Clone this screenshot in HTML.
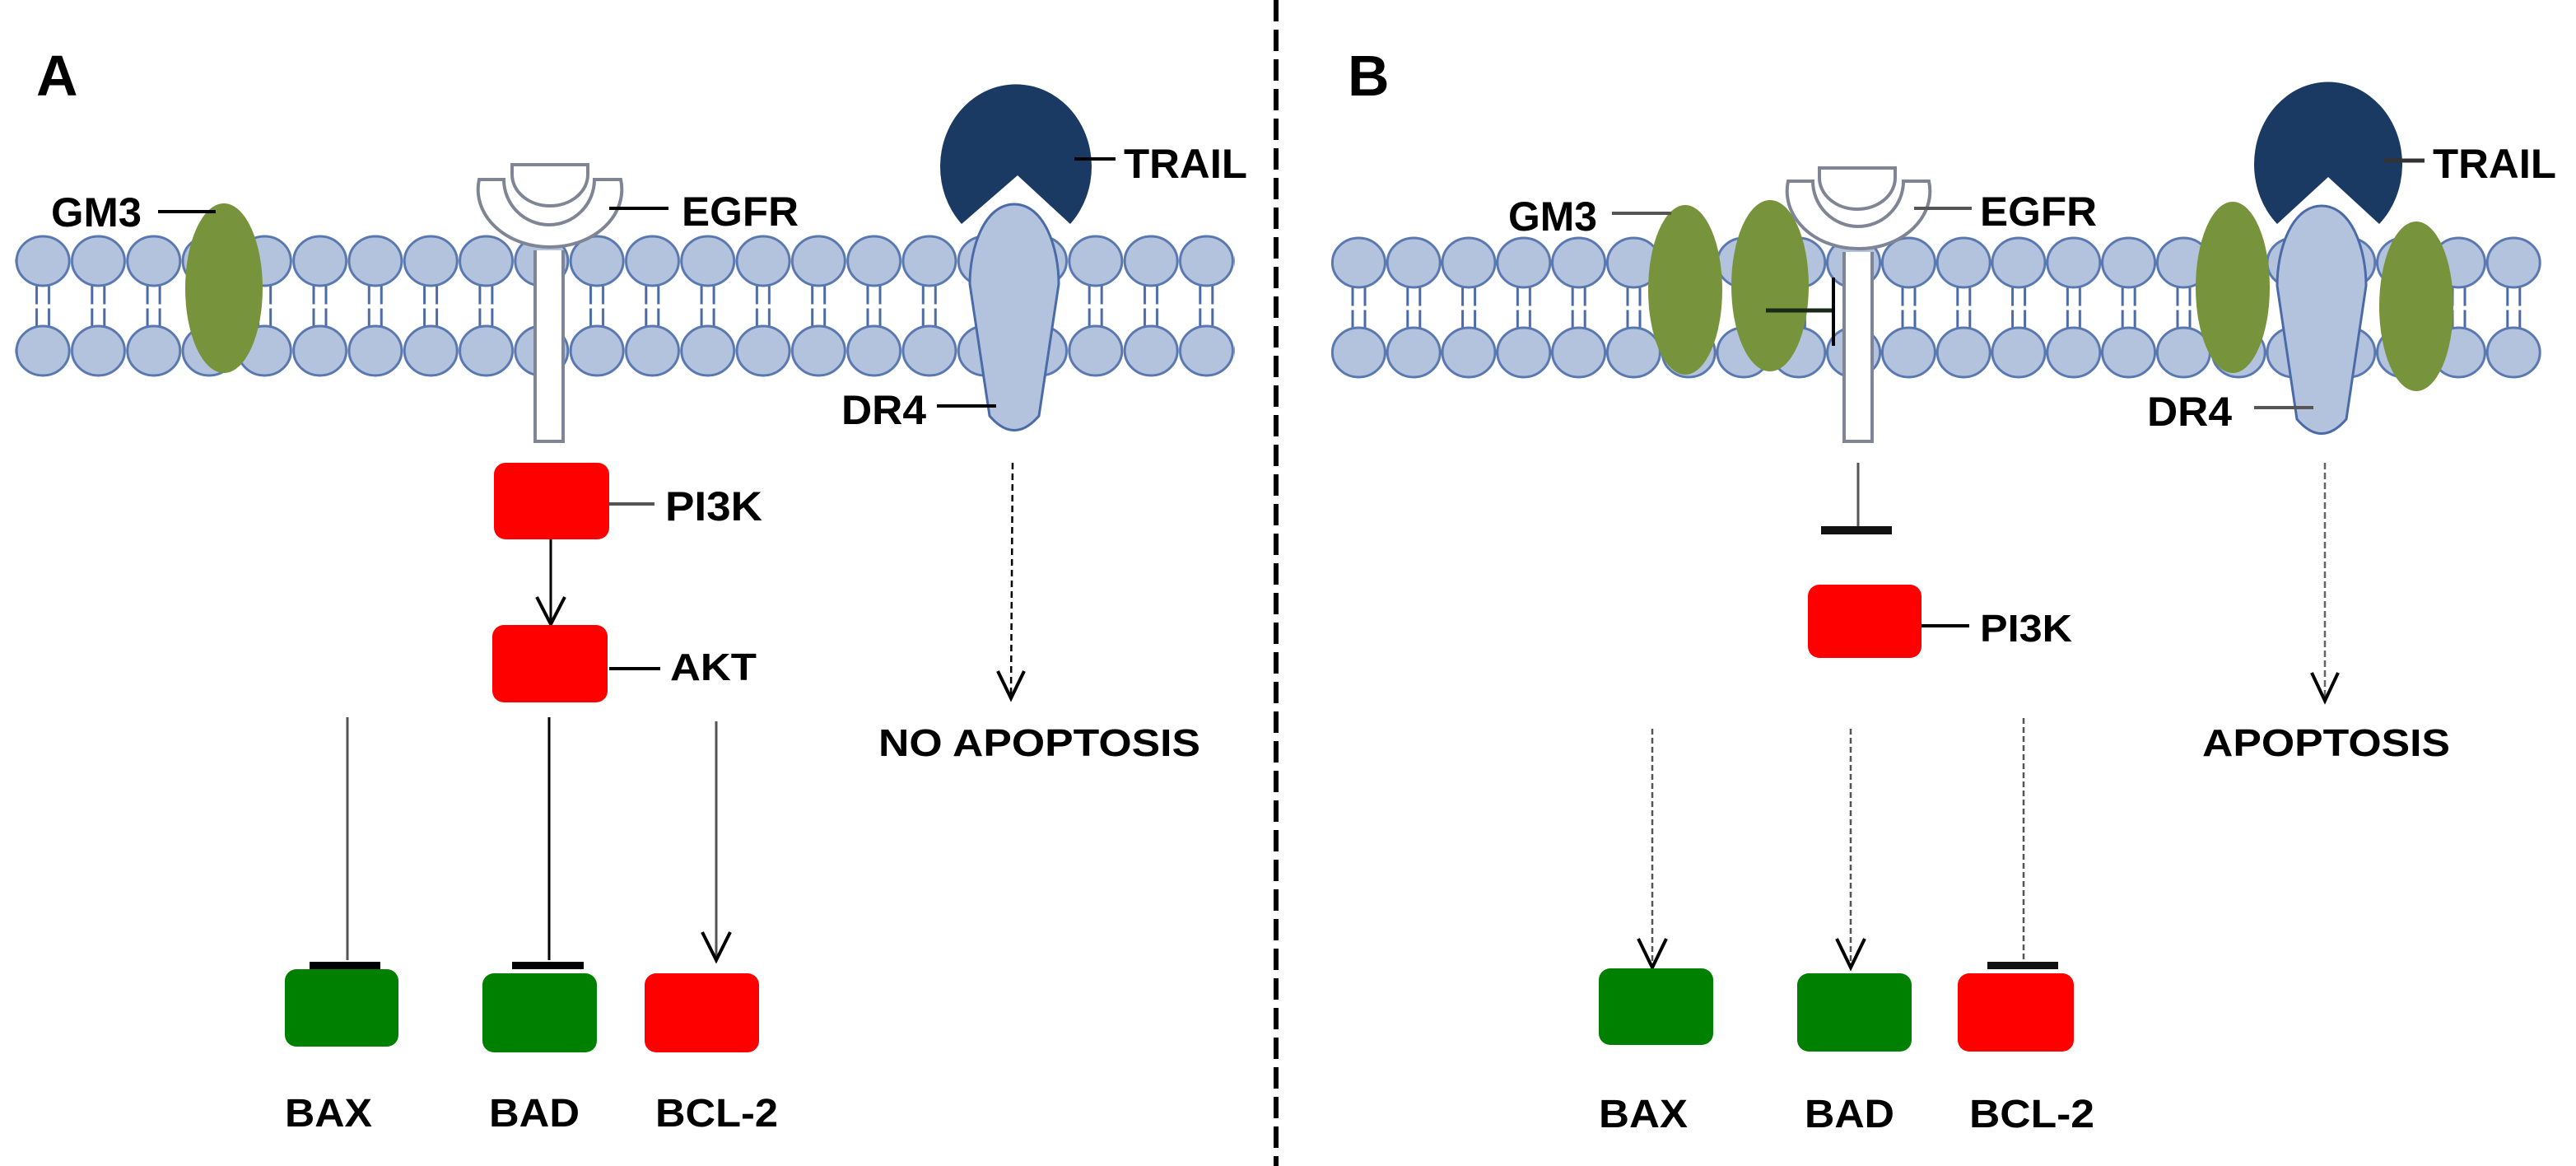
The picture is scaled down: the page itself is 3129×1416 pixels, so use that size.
<!DOCTYPE html>
<html><head><meta charset="utf-8"><style>
html,body{margin:0;padding:0;background:#fff;}
svg{display:block;}
text{font-family:"Liberation Sans",Arial,sans-serif;font-weight:bold;fill:#000;}
</style></head><body>
<svg width="3129" height="1416" viewBox="0 0 3129 1416" xmlns="http://www.w3.org/2000/svg">
<defs>
<pattern id="lipA" patternUnits="userSpaceOnUse" x="18.5" y="280" width="67.3" height="185">
 <line x1="26" y1="60" x2="26" y2="125" stroke="#4a6aa8" stroke-width="3"/>
 <line x1="41" y1="60" x2="41" y2="125" stroke="#4a6aa8" stroke-width="3"/>
 <line x1="20" y1="92" x2="48" y2="92" stroke="#fff" stroke-width="5"/>
 <ellipse cx="33.65" cy="37" rx="32" ry="30" fill="#b3c3dd" stroke="#5a78b0" stroke-width="3"/>
 <ellipse cx="33.65" cy="146" rx="32" ry="30" fill="#b3c3dd" stroke="#5a78b0" stroke-width="3"/>
</pattern>
<pattern id="lipB" patternUnits="userSpaceOnUse" x="1617" y="282" width="66.8" height="185">
 <line x1="26" y1="60" x2="26" y2="125" stroke="#4a6aa8" stroke-width="3"/>
 <line x1="41" y1="60" x2="41" y2="125" stroke="#4a6aa8" stroke-width="3"/>
 <line x1="20" y1="92" x2="48" y2="92" stroke="#fff" stroke-width="5"/>
 <ellipse cx="33.4" cy="37" rx="32" ry="30" fill="#b3c3dd" stroke="#5a78b0" stroke-width="3"/>
 <ellipse cx="33.4" cy="146" rx="32" ry="30" fill="#b3c3dd" stroke="#5a78b0" stroke-width="3"/>
</pattern>
</defs>

<line x1="1550" y1="0" x2="1550" y2="1416" stroke="#000" stroke-width="6" stroke-dasharray="26,10"/>

<!-- ===== PANEL A ===== -->
<text x="44" y="116" font-size="70">A</text>
<rect x="18" y="280" width="1482" height="185" fill="url(#lipA)"/>

<ellipse cx="272" cy="350" rx="47" ry="103" fill="#77933c"/>
<line x1="192" y1="257" x2="262" y2="257" stroke="#000" stroke-width="4"/>
<text x="62" y="275" font-size="50" textLength="110" lengthAdjust="spacingAndGlyphs">GM3</text>

<g fill="#fff" stroke="#7f8595" stroke-width="4">
 <path d="M650,304 L650,536 L684,536 L684,304"/>
 <path d="M582,218 L612,218 A55,55 0 0 0 722,218 L754,218 A87,70 0 0 1 667,300 A87,70 0 0 1 582,218 Z"/>
 <path d="M622,200 L714,200 L714,212 A46,38 0 0 1 622,212 Z"/>
</g>
<line x1="740" y1="253" x2="812" y2="253" stroke="#000" stroke-width="4"/>
<text x="828" y="274" font-size="50" textLength="142" lengthAdjust="spacingAndGlyphs">EGFR</text>

<path d="M1236,213 L1300,272 A92,100 0 1 0 1168,272 Z" fill="#1b3a63"/>
<line x1="1305" y1="193" x2="1355" y2="193" stroke="#000" stroke-width="4"/>
<text x="1365" y="216" font-size="50" textLength="150" lengthAdjust="spacingAndGlyphs">TRAIL</text>

<path d="M1232,248 C1268,248 1286,300 1286,345 L1262,505 Q1232,540 1202,505 L1178,345 C1178,300 1196,248 1232,248 Z" fill="#b3c3dd" stroke="#4a6aa8" stroke-width="3"/>
<line x1="1138" y1="493" x2="1210" y2="493" stroke="#000" stroke-width="4"/>
<text x="1022" y="515" font-size="50" textLength="103" lengthAdjust="spacingAndGlyphs">DR4</text>

<line x1="1230" y1="562" x2="1228" y2="845" stroke="#000" stroke-width="2.5" stroke-dasharray="8,5"/>
<path d="M1212,815 L1228,848 L1244,815" fill="none" stroke="#000" stroke-width="4"/>
<text x="1067" y="918" font-size="46" textLength="391" lengthAdjust="spacingAndGlyphs">NO APOPTOSIS</text>

<rect x="600" y="562" width="140" height="93" rx="14" fill="#ff0000"/>
<line x1="740" y1="612" x2="795" y2="612" stroke="#555" stroke-width="4"/>
<text x="808" y="632" font-size="50" textLength="118" lengthAdjust="spacingAndGlyphs">PI3K</text>
<line x1="669" y1="655" x2="669" y2="757" stroke="#000" stroke-width="3"/>
<path d="M652,725 L669,758 L686,725" fill="none" stroke="#000" stroke-width="4"/>

<rect x="598" y="759" width="140" height="94" rx="14" fill="#ff0000"/>
<line x1="740" y1="812" x2="802" y2="812" stroke="#000" stroke-width="4"/>
<text x="814" y="826" font-size="46" textLength="105" lengthAdjust="spacingAndGlyphs">AKT</text>

<line x1="422" y1="871" x2="422" y2="1166" stroke="#555" stroke-width="3"/>
<rect x="376" y="1168" width="86" height="9" fill="#000"/>
<line x1="667" y1="871" x2="667" y2="1166" stroke="#000" stroke-width="3"/>
<rect x="622" y="1168" width="87" height="9" fill="#000"/>
<line x1="870" y1="876" x2="870" y2="1164" stroke="#555" stroke-width="3"/>
<path d="M853,1132 L870,1166 L887,1132" fill="none" stroke="#000" stroke-width="4"/>

<rect x="346" y="1177" width="138" height="94" rx="14" fill="#008000"/>
<rect x="586" y="1182" width="139" height="96" rx="14" fill="#008000"/>
<rect x="783" y="1182" width="139" height="96" rx="14" fill="#ff0000"/>
<text x="346" y="1368" font-size="48" textLength="106" lengthAdjust="spacingAndGlyphs">BAX</text>
<text x="594" y="1368" font-size="48" textLength="110" lengthAdjust="spacingAndGlyphs">BAD</text>
<text x="796" y="1368" font-size="48" textLength="149" lengthAdjust="spacingAndGlyphs">BCL-2</text>

<!-- ===== PANEL B ===== -->
<text x="1637" y="116" font-size="70">B</text>
<rect x="1617" y="282" width="1469.6" height="185" fill="url(#lipB)"/>

<ellipse cx="2047" cy="352" rx="45" ry="103" fill="#77933c"/>
<ellipse cx="2150" cy="347" rx="47" ry="104" fill="#77933c"/>
<line x1="1958" y1="259" x2="2030" y2="259" stroke="#555" stroke-width="4"/>
<text x="1832" y="280" font-size="50" textLength="108" lengthAdjust="spacingAndGlyphs">GM3</text>

<g fill="#fff" stroke="#7f8595" stroke-width="4">
 <path d="M2240,306 L2240,536 L2274,536 L2274,306"/>
 <path d="M2172,220 L2202,220 A55,55 0 0 0 2312,220 L2343,220 A86,70 0 0 1 2257,302 A86,70 0 0 1 2172,220 Z"/>
 <path d="M2210,204 L2302,204 L2302,216 A46,38 0 0 1 2210,216 Z"/>
</g>
<line x1="2325" y1="253" x2="2395" y2="253" stroke="#555" stroke-width="4"/>
<text x="2405" y="274" font-size="50" textLength="142" lengthAdjust="spacingAndGlyphs">EGFR</text>
<line x1="2145" y1="377" x2="2226" y2="377" stroke="#1a2a1a" stroke-width="5"/>
<line x1="2227" y1="337" x2="2227" y2="420" stroke="#000" stroke-width="4"/>

<path d="M2828,215 L2890,272 A90,100 0 1 0 2766,272 Z" fill="#1b3a63"/>
<line x1="2895" y1="195" x2="2945" y2="195" stroke="#333" stroke-width="5"/>
<text x="2955" y="216" font-size="50" textLength="150" lengthAdjust="spacingAndGlyphs">TRAIL</text>

<ellipse cx="2712" cy="349" rx="45" ry="104" fill="#77933c"/>
<path d="M2820,250 C2856,250 2874,302 2874,347 L2850,509 Q2820,544 2790,509 L2766,347 C2766,302 2784,250 2820,250 Z" fill="#b3c3dd" stroke="#4a6aa8" stroke-width="3"/>
<ellipse cx="2935" cy="372" rx="45" ry="103" fill="#77933c"/>
<line x1="2738" y1="495" x2="2810" y2="495" stroke="#555" stroke-width="4"/>
<text x="2608" y="517" font-size="50" textLength="103" lengthAdjust="spacingAndGlyphs">DR4</text>

<line x1="2824" y1="562" x2="2824" y2="849" stroke="#666" stroke-width="2.5" stroke-dasharray="8,4"/>
<path d="M2808,817 L2824,851 L2840,817" fill="none" stroke="#000" stroke-width="4"/>
<text x="2675" y="918" font-size="46" textLength="301" lengthAdjust="spacingAndGlyphs">APOPTOSIS</text>

<line x1="2257" y1="562" x2="2257" y2="640" stroke="#555" stroke-width="3"/>
<rect x="2212" y="639" width="86" height="10" fill="#111"/>
<rect x="2196" y="710" width="138" height="89" rx="14" fill="#ff0000"/>
<line x1="2334" y1="760" x2="2392" y2="760" stroke="#000" stroke-width="4"/>
<text x="2405" y="779" font-size="46" textLength="112" lengthAdjust="spacingAndGlyphs">PI3K</text>

<line x1="2007" y1="885" x2="2007" y2="1172" stroke="#555" stroke-width="2.5" stroke-dasharray="7,4"/>
<path d="M1990,1140 L2007,1175 L2024,1140" fill="none" stroke="#000" stroke-width="4"/>
<line x1="2248" y1="885" x2="2248" y2="1172" stroke="#555" stroke-width="2.5" stroke-dasharray="7,4"/>
<path d="M2231,1140 L2248,1175 L2265,1140" fill="none" stroke="#000" stroke-width="4"/>
<line x1="2458" y1="872" x2="2458" y2="1166" stroke="#555" stroke-width="2.5" stroke-dasharray="7,4"/>
<rect x="2414" y="1168" width="86" height="9" fill="#111"/>

<rect x="1942" y="1176" width="139" height="93" rx="14" fill="#008000"/>
<rect x="2183" y="1182" width="139" height="95" rx="14" fill="#008000"/>
<rect x="2378" y="1182" width="141" height="95" rx="14" fill="#ff0000"/>
<text x="1942" y="1369" font-size="48" textLength="108" lengthAdjust="spacingAndGlyphs">BAX</text>
<text x="2192" y="1369" font-size="48" textLength="109" lengthAdjust="spacingAndGlyphs">BAD</text>
<text x="2392" y="1369" font-size="48" textLength="152" lengthAdjust="spacingAndGlyphs">BCL-2</text>
</svg>
</body></html>
